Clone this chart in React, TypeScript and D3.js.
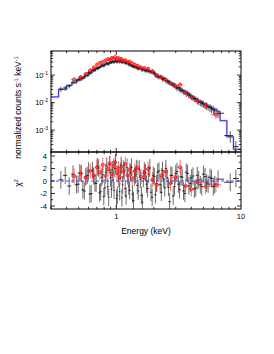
import React from 'react';
import * as d3 from 'd3';

// model (step histogram): left bin edges in keV and model flux
const modelEdges = [0.3, 0.345, 0.4, 0.44, 0.48, 0.52, 0.56, 0.6, 0.64, 0.68, 0.72, 0.76, 0.8, 0.85, 0.9, 0.95, 1.0, 1.06, 1.12, 1.18, 1.25, 1.32, 1.4, 1.48, 1.58, 1.68, 1.8, 1.92, 2.05, 2.18, 2.32, 2.48, 2.65, 2.85, 3.05, 3.3, 3.55, 3.85, 4.15, 4.5, 4.9, 5.35, 5.85, 6.4, 6.8, 7.7, 8.7, 10];
const modelFlux = [0.016, 0.03, 0.042, 0.052, 0.065, 0.08, 0.095, 0.12, 0.145, 0.17, 0.195, 0.22, 0.245, 0.27, 0.295, 0.31, 0.32, 0.315, 0.3, 0.28, 0.25, 0.22, 0.195, 0.178, 0.163, 0.15, 0.138, 0.126, 0.095, 0.085, 0.072, 0.062, 0.051, 0.041, 0.034, 0.027, 0.022, 0.017, 0.0135, 0.011, 0.0088, 0.0071, 0.0058, 0.0047, 0.0022, 0.00057, 0.0002, 0.0002];

// black data set 1
const blackEnergy = [0.36, 0.39, 0.42, 0.45, 0.48, 0.51, 0.54, 0.57, 0.6, 0.63, 0.66, 0.69, 0.72, 0.75, 0.78, 0.81, 0.84, 0.87, 0.9, 0.93, 0.96, 0.99, 1.02, 1.05, 1.08, 1.11, 1.14, 1.18, 1.22, 1.26, 1.3, 1.35, 1.4, 1.45, 1.5, 1.56, 1.62, 1.68, 1.75, 1.82, 1.9, 1.98, 2.06, 2.15, 2.25, 2.35, 2.45, 2.56, 2.68, 2.8, 2.93, 3.07, 3.22, 3.38, 3.55, 3.73, 3.92, 4.12, 4.34, 4.58, 4.85, 5.15, 5.45, 5.8, 6.15, 6.55, 8.2, 9.1];
const blackFlux = [0.031, 0.034, 0.04, 0.055, 0.06, 0.072, 0.076, 0.098, 0.125, 0.13, 0.15, 0.18, 0.185, 0.21, 0.23, 0.24, 0.27, 0.25, 0.3, 0.31, 0.29, 0.34, 0.3, 0.33, 0.32, 0.29, 0.31, 0.27, 0.29, 0.24, 0.23, 0.21, 0.2, 0.19, 0.17, 0.18, 0.155, 0.155, 0.145, 0.14, 0.13, 0.12, 0.098, 0.09, 0.088, 0.07, 0.074, 0.058, 0.053, 0.047, 0.043, 0.033, 0.031, 0.028, 0.024, 0.022, 0.018, 0.015, 0.0135, 0.0108, 0.0095, 0.0082, 0.007, 0.006, 0.005, 0.0041, 0.00063, 0.00025];
const blackErr = [0.22, 0.2, 0.19, 0.19, 0.17, 0.17, 0.16, 0.16, 0.15, 0.15, 0.15, 0.13, 0.13, 0.13, 0.13, 0.13, 0.13, 0.13, 0.13, 0.13, 0.13, 0.13, 0.13, 0.13, 0.13, 0.13, 0.13, 0.13, 0.13, 0.14, 0.14, 0.14, 0.14, 0.14, 0.15, 0.15, 0.15, 0.15, 0.15, 0.17, 0.17, 0.17, 0.18, 0.18, 0.18, 0.18, 0.18, 0.2, 0.2, 0.2, 0.21, 0.21, 0.21, 0.22, 0.22, 0.22, 0.24, 0.24, 0.25, 0.25, 0.27, 0.27, 0.28, 0.3, 0.32, 0.34, 0.45, 0.6];
const blackResid = [0.2, 0.9, -0.8, 1.1, -0.6, 1.3, -1.4, 0.7, 1.6, -2.0, 0.8, -0.4, 2.1, -1.7, 1.0, -1.1, 2.4, -2.6, 0.5, 1.8, -1.5, 2.9, -2.3, 0.4, 1.5, -2.7, 1.9, -1.2, 2.2, -0.8, 1.3, -2.1, 0.7, 2.0, -1.6, 0.3, -3.4, 1.6, -0.5, 1.1, -1.8, 0.9, -2.2, 1.4, -0.6, 1.7, -1.1, 0.5, -3.3, 0.9, -0.9, 1.5, -1.4, 0.6, -2.0, 1.2, -0.4, 0.8, -1.1, 0.2, -0.9, 0.7, -0.5, 0.4, -0.6, 0.3, -0.2, 0.4];

// black data set 2
const black2Energy = [0.495, 0.525, 0.555, 0.585, 0.615, 0.645, 0.675, 0.705, 0.735, 0.765, 0.795, 0.825, 0.855, 0.885, 0.915, 0.945, 0.975, 1.005, 1.035, 1.065, 1.095, 1.125, 1.16, 1.2, 1.24, 1.28, 1.325, 1.375, 1.425, 1.475, 1.53, 1.59, 1.65, 1.715, 1.785, 1.86, 1.94, 2.02, 2.1, 2.2, 2.3, 2.4, 2.5, 2.62, 2.74, 2.86, 3.0, 3.15, 3.3, 3.46, 3.64, 3.82, 4.02, 4.23, 4.46, 4.72, 5.0, 5.3, 5.65, 6.0];
const black2Flux = [0.068, 0.077, 0.088, 0.1, 0.115, 0.15, 0.155, 0.175, 0.19, 0.225, 0.215, 0.255, 0.26, 0.285, 0.29, 0.305, 0.32, 0.31, 0.335, 0.3, 0.325, 0.295, 0.3, 0.275, 0.26, 0.255, 0.225, 0.205, 0.2, 0.18, 0.182, 0.16, 0.165, 0.145, 0.152, 0.135, 0.13, 0.118, 0.096, 0.083, 0.08, 0.074, 0.063, 0.057, 0.052, 0.044, 0.038, 0.035, 0.028, 0.025, 0.021, 0.019, 0.0165, 0.014, 0.012, 0.0102, 0.009, 0.0078, 0.0066, 0.0055];
const black2Err = [0.17, 0.16, 0.16, 0.16, 0.15, 0.15, 0.15, 0.15, 0.13, 0.13, 0.13, 0.13, 0.13, 0.13, 0.13, 0.13, 0.13, 0.13, 0.13, 0.13, 0.13, 0.13, 0.13, 0.13, 0.14, 0.14, 0.14, 0.14, 0.14, 0.15, 0.15, 0.15, 0.15, 0.15, 0.17, 0.17, 0.17, 0.18, 0.18, 0.18, 0.18, 0.2, 0.2, 0.2, 0.21, 0.21, 0.21, 0.22, 0.22, 0.22, 0.24, 0.24, 0.25, 0.25, 0.27, 0.27, 0.28, 0.3, 0.32, 0.34];
const black2Resid = [-0.5, 1.2, -1.6, 0.9, -2.1, 1.7, -0.3, 2.3, -1.9, 0.6, -2.5, 1.4, -0.9, 2.6, -1.3, 0.2, 2.0, -2.8, 1.1, -1.7, 2.5, -0.6, 1.6, -2.4, 0.8, -1.5, 2.2, -3.1, 1.0, -0.7, 1.9, -2.3, 0.4, 1.3, -1.2, 2.1, -2.6, 0.7, -0.4, 1.6, -1.8, 0.3, 2.0, -1.0, 0.9, -2.4, 1.2, -0.5, 0.7, -1.6, 1.4, -0.8, 0.5, -1.3, 0.9, -0.6, 1.1, -0.3, 0.6, -0.9];

// red data set
const redEnergy = [0.46, 0.52, 0.57, 0.62, 0.66, 0.7, 0.74, 0.78, 0.82, 0.86, 0.89, 0.92, 0.95, 0.98, 1.01, 1.04, 1.07, 1.1, 1.14, 1.18, 1.23, 1.28, 1.34, 1.41, 1.49, 1.58, 1.68, 1.8, 1.95, 2.12, 2.3, 2.5, 2.72, 2.97, 3.25, 3.6, 4.0, 4.5, 5.2, 6.3];
const redFlux = [0.07, 0.085, 0.11, 0.15, 0.19, 0.24, 0.28, 0.3, 0.34, 0.38, 0.36, 0.42, 0.4, 0.45, 0.38, 0.42, 0.36, 0.39, 0.33, 0.35, 0.3, 0.31, 0.27, 0.24, 0.22, 0.19, 0.18, 0.17, 0.14, 0.1, 0.085, 0.068, 0.05, 0.042, 0.045, 0.024, 0.016, 0.0115, 0.0078, 0.0036];
const redErr = [0.2, 0.18, 0.17, 0.16, 0.15, 0.14, 0.14, 0.14, 0.14, 0.14, 0.14, 0.14, 0.14, 0.14, 0.14, 0.14, 0.14, 0.14, 0.14, 0.15, 0.15, 0.15, 0.16, 0.16, 0.16, 0.17, 0.17, 0.17, 0.18, 0.18, 0.19, 0.19, 0.2, 0.2, 0.21, 0.22, 0.23, 0.24, 0.26, 0.3];
const redResid = [0.8, 1.2, 0.5, 1.6, 0.9, 2.2, 1.4, 2.6, 0.8, 1.9, 2.8, 1.1, 2.4, 3.0, 1.3, 2.0, 0.6, 2.3, 1.5, 2.7, 0.9, 1.8, 0.4, 1.6, 2.1, 0.7, 1.3, 1.9, 0.2, -0.6, 0.9, 1.5, -0.4, 0.6, 2.2, -0.8, -1.3, -0.2, -0.9, -0.6];

const fluxTicks = [-3, -2, -1];
const residTicks = [-4, -2, 0, 2, 4];
const energyTicks = [1, 10];

const left = 51;
const right = 241;
const top = 51;
const mid = 152;
const bottom = 209;
const font = 'Liberation Sans, Arial, Helvetica, sans-serif';

// geometric bin edges from neighbouring centres
function binEdges(e: number[]) {
  return e.map((v, i) => {
    const lo = i > 0 ? Math.sqrt(e[i - 1] * v) : (v * v) / Math.sqrt(v * e[i + 1]);
    const hi = i < e.length - 1 ? Math.sqrt(v * e[i + 1]) : (v * v) / Math.sqrt(v * e[i - 1]);
    return [lo, hi];
  });
}

type Scale = (v: number) => number;

function BlackSet({ energy, flux, err, resid, x, y, r }: { energy: number[]; flux: number[]; err: number[]; resid: number[]; x: Scale; y: Scale; r: Scale }) {
  const edges = binEdges(energy);
  return (
    <>
      <g clipPath="url(#upper)">
        {energy.map((e, i) => {
          const f = flux[i];
          const cx = x(e);
          return (
            <g key={'u' + i}>
              <line x1={cx} x2={cx} y1={y(f * (1 - err[i]))} y2={y(f * (1 + err[i]))} stroke="#4a4a4a" strokeWidth={0.9} />
              <line x1={x(edges[i][0])} x2={x(edges[i][1])} y1={y(f)} y2={y(f)} stroke="#000" strokeWidth={0.8} />
            </g>
          );
        })}
      </g>
      <g clipPath="url(#lower)">
        {energy.map((e, i) => {
          const v = resid[i];
          const cx = x(e);
          return (
            <g key={'l' + i}>
              <line x1={cx} x2={cx} y1={r(v - 1.4)} y2={r(v + 1.4)} stroke="#5a5a5a" strokeWidth={0.9} />
              <line x1={x(edges[i][0])} x2={x(edges[i][1])} y1={r(v)} y2={r(v)} stroke="#000" strokeWidth={0.8} />
            </g>
          );
        })}
      </g>
    </>
  );
}

export default function App() {
  const x = d3.scaleLog().domain([0.3, 10]).range([left, right]);
  const y = d3.scaleLog().domain([1.6e-4, 0.75]).range([mid, top]);
  const r = d3.scaleLinear().domain([-4.48, 4.64]).range([bottom, mid]);

  const modelPts = modelEdges.map((e, i) => [e, modelFlux[i]] as [number, number]);
  const step = d3
    .line<[number, number]>()
    .x((d) => x(d[0]))
    .y((d) => y(d[1]))
    .curve(d3.curveStepAfter);

  const rEdges = binEdges(redEnergy);

  // minor ticks
  const xMinor: number[] = [];
  [0.1, 1].forEach((p) => {
    for (let m = 1; m <= 9; m++) {
      const v = m * p;
      if (v >= 0.3 && v <= 10) xMinor.push(v);
    }
  });
  const yMinor: number[] = [];
  [-4, -3, -2, -1].forEach((k) => {
    for (let m = 1; m <= 9; m++) {
      const v = m * Math.pow(10, k);
      if (v >= 1.6e-4 && v <= 0.75) yMinor.push(v);
    }
  });
  const rMinor = d3.range(-4, 5, 1);

  const tk = '#000';

  return (
    <svg width={274} height={354} style={{ position: 'absolute', left: 0, top: 0, background: '#fff' }}>
      <defs>
        <clipPath id="upper">
          <rect x={left} y={top} width={right - left} height={mid - top} />
        </clipPath>
        <clipPath id="lower">
          <rect x={left} y={mid} width={right - left} height={bottom - mid} />
        </clipPath>
      </defs>

      {/* model */}
      <g clipPath="url(#upper)">
        <path d={step(modelPts) || ''} fill="none" stroke="#8c8cff" strokeWidth={1.8} opacity={0.7} />
        <path d={step(modelPts) || ''} fill="none" stroke="#1a1ad8" strokeWidth={0.8} />
      </g>

      <BlackSet energy={blackEnergy} flux={blackFlux} err={blackErr} resid={blackResid} x={x} y={y} r={r} />
      <BlackSet energy={black2Energy} flux={black2Flux} err={black2Err} resid={black2Resid} x={x} y={y} r={r} />

      {/* red data */}
      <g clipPath="url(#upper)">
        {redEnergy.map((e, i) => {
          const f = redFlux[i];
          const cx = x(e);
          return (
            <g key={'r' + i}>
              <line x1={cx} x2={cx} y1={y(f * (1 - redErr[i]))} y2={y(f * (1 + redErr[i]))} stroke="#ff3030" strokeWidth={0.7} />
              <line x1={x(rEdges[i][0])} x2={x(rEdges[i][1])} y1={y(f)} y2={y(f)} stroke="#ff3030" strokeWidth={0.7} />
              <circle cx={cx} cy={y(f)} r={1.5} fill="none" stroke="#ff0000" strokeWidth={0.8} />
            </g>
          );
        })}
      </g>
      <g clipPath="url(#lower)">
        <line x1={left} x2={right} y1={r(0)} y2={r(0)} stroke="#3333ee" strokeWidth={0.9} strokeDasharray="3,2" />
        {redEnergy.map((e, i) => {
          const v = redResid[i];
          const cx = x(e);
          return (
            <g key={'rr' + i}>
              <line x1={cx} x2={cx} y1={r(v - 1.2)} y2={r(v + 1.2)} stroke="#ff3030" strokeWidth={0.7} />
              <line x1={x(rEdges[i][0])} x2={x(rEdges[i][1])} y1={r(v)} y2={r(v)} stroke="#ff3030" strokeWidth={0.7} />
              <circle cx={cx} cy={r(v)} r={1.5} fill="none" stroke="#ff0000" strokeWidth={0.8} />
            </g>
          );
        })}
      </g>

      {/* frames */}
      <rect x={left} y={top} width={right - left} height={mid - top} fill="none" stroke={tk} strokeWidth={1} />
      <rect x={left} y={mid} width={right - left} height={bottom - mid} fill="none" stroke={tk} strokeWidth={1} />

      {/* x ticks (top & bottom of both panels) */}
      {[top, mid, bottom].map((yy, k) => (
        <g key={'xt' + k}>
          {xMinor.map((v) => {
            const major = energyTicks.includes(v);
            const len = major ? 4 : 2.2;
            const xx = x(v);
            return (
              <g key={v}>
                {yy !== top && <line x1={xx} x2={xx} y1={yy} y2={yy - len} stroke={tk} strokeWidth={0.8} />}
                {yy !== bottom && <line x1={xx} x2={xx} y1={yy} y2={yy + len} stroke={tk} strokeWidth={0.8} />}
              </g>
            );
          })}
        </g>
      ))}

      {/* upper y ticks */}
      {yMinor.map((v) => {
        const major = fluxTicks.some((k) => Math.abs(Math.pow(10, k) - v) < 1e-9);
        const len = major ? 4 : 2.2;
        const yy = y(v);
        return (
          <g key={'yt' + v}>
            <line x1={left} x2={left + len} y1={yy} y2={yy} stroke={tk} strokeWidth={0.8} />
            <line x1={right} x2={right - len} y1={yy} y2={yy} stroke={tk} strokeWidth={0.8} />
          </g>
        );
      })}
      {fluxTicks.map((k) => (
        <text key={'yl' + k} x={left - 3} y={y(Math.pow(10, k)) + 2.5} textAnchor="end" fontFamily={font} fontSize={7.5} fill="#000">
          10
          <tspan dy={-3} fontSize={5}>
            {String(k)}
          </tspan>
        </text>
      ))}

      {/* lower y ticks */}
      {rMinor.map((v) => {
        const major = residTicks.includes(v);
        const len = major ? 4 : 2.2;
        const yy = r(v);
        return (
          <g key={'rt' + v}>
            <line x1={left} x2={left + len} y1={yy} y2={yy} stroke={tk} strokeWidth={0.8} />
            <line x1={right} x2={right - len} y1={yy} y2={yy} stroke={tk} strokeWidth={0.8} />
          </g>
        );
      })}
      {residTicks.map((v) => (
        <text key={'rl' + v} x={left - 4} y={r(v) + 2.6} textAnchor="end" fontFamily={font} fontSize={7.5} fill="#000">
          {v}
        </text>
      ))}

      {/* x labels */}
      {energyTicks.map((v) => (
        <text key={'xl' + v} x={x(v)} y={bottom + 10} textAnchor="middle" fontFamily={font} fontSize={7.5} fill="#000">
          {v}
        </text>
      ))}
      <text x={(left + right) / 2} y={bottom + 25} textAnchor="middle" fontFamily={font} fontSize={8.5} fill="#000">
        Energy (keV)
      </text>

      {/* y labels */}
      <text transform={`translate(21,${(top + mid) / 2 + 6}) rotate(-90)`} textAnchor="middle" fontFamily={font} fontSize={8.5} fill="#000">
        normalized counts s
        <tspan dy={-3} fontSize={5.5}>-1</tspan>
        <tspan dy={3}> keV</tspan>
        <tspan dy={-3} fontSize={5.5}>-1</tspan>
      </text>
      <text transform={`translate(21,${r(0) + 2}) rotate(-90)`} textAnchor="middle" fontFamily={font} fontSize={8.5} fill="#000">
        χ
        <tspan dy={-3} fontSize={5.5}>2</tspan>
      </text>
    </svg>
  );
}
